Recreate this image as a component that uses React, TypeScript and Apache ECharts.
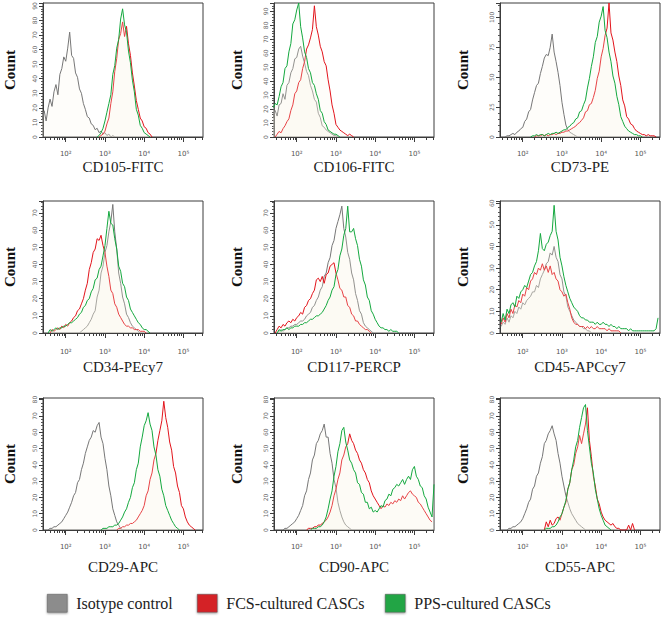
import React, { useEffect, useRef } from "react";
import * as echarts from "echarts";

// ---------- axis definitions ----------
const STEP = 0.05; // channel width in log10 units
const X_MIN = 1.42;
const X_MAX = 5.5;
const DECADES = [2, 3, 4, 5];
const DECADE_LABELS = ["10\u00B2", "10\u00B3", "10\u2074", "10\u2075"];
const MINOR_MULTIPLIERS = [2, 3, 4, 5, 6, 7, 8, 9];
const SERIES_NAMES = ["Isotype control", "FCS-cultured CASCs", "PPS-cultured CASCs"];
const SERIES_COLORS = ["#777777", "#e2141c", "#14a83f"];
const LEGEND_COLORS = ["#8c8c8c", "#d42228", "#22a545"];

const PANEL_TITLES = ["CD105-FITC", "CD106-FITC", "CD73-PE", "CD34-PEcy7", "CD117-PERCP", "CD45-APCcy7", "CD29-APC", "CD90-APC", "CD55-APC"];
const Y_MAX = [92, 96, 112, 77, 77, 61, 81, 81, 81];
const Y_INTERVAL = [10, 10, 25, 10, 10, 10, 10, 10, 10];
const Y_TICKS_90 = [0, 10, 20, 30, 40, 50, 60, 70, 80, 90];
const Y_TICKS_100 = [0, 25, 50, 75, 100];
const Y_TICKS_70 = [0, 10, 20, 30, 40, 50, 60, 70];
const Y_TICKS_60 = [0, 10, 20, 30, 40, 50, 60];
const Y_TICKS_80 = [0, 10, 20, 30, 40, 50, 60, 70, 80];

// ---------- histogram data: [first channel (log10), counts...] ----------
const CD105_ISO: [number, number[]] = [1.40, [12, 18, 11, 20, 26, 21, 31, 36, 29, 43, 47, 55, 52, 61, 72, 56, 54, 44, 41, 33, 30, 23, 19, 14, 13, 9, 8, 5, 6, 3, 4, 2, 3, 1, 2, 0, 1, 0]];
const CD105_FCS: [number, number[]] = [2.85, [0, 1, 2, 4, 9, 13, 23, 31, 45, 54, 67, 71, 79, 69, 76, 64, 56, 44, 35, 25, 19, 13, 11, 7, 6, 3, 2, 0]];
const CD105_PPS: [number, number[]] = [2.80, [0, 1, 3, 6, 11, 17, 23, 29, 43, 49, 61, 67, 81, 88, 77, 72, 59, 51, 39, 31, 19, 15, 8, 6, 3, 2, 1, 0]];

const CD106_ISO: [number, number[]] = [1.40, [14, 19, 15, 23, 24, 31, 27, 37, 39, 46, 49, 56, 57, 63, 65, 58, 53, 47, 44, 37, 33, 27, 25, 17, 14, 8, 7, 5, 4, 3, 2, 1, 1, 0]];
const CD106_FCS: [number, number[]] = [1.45, [0, 2, 4, 3, 6, 8, 11, 13, 19, 23, 31, 33, 39, 41, 49, 54, 63, 66, 71, 77, 94, 79, 73, 65, 61, 54, 51, 41, 33, 23, 17, 9, 7, 5, 4, 3, 2, 1, 2, 1, 0]];
const CD106_PPS: [number, number[]] = [1.40, [21, 24, 23, 29, 36, 39, 49, 51, 61, 67, 81, 84, 91, 96, 79, 71, 61, 57, 49, 46, 39, 37, 31, 27, 19, 17, 11, 9, 5, 4, 3, 2, 2, 1, 0]];

const CD73_ISO: [number, number[]] = [1.55, [0, 1, 1, 2, 3, 2, 4, 5, 7, 8, 13, 15, 21, 23, 31, 37, 43, 45, 53, 59, 66, 69, 68, 75, 86, 71, 63, 54, 43, 29, 19, 10, 6, 4, 3, 2, 1, 0]];
const CD73_FCS: [number, number[]] = [2.30, [0, 1, 1, 1, 2, 1, 2, 1, 2, 2, 3, 2, 3, 3, 4, 4, 5, 5, 6, 7, 8, 9, 11, 12, 14, 16, 21, 22, 27, 28, 33, 39, 49, 55, 67, 74, 85, 91, 112, 87, 81, 71, 63, 51, 43, 31, 26, 17, 15, 11, 10, 7, 5, 4, 3, 2, 2, 1, 2, 1, 1, 1, 0]];
const CD73_PPS: [number, number[]] = [2.20, [0, 1, 1, 2, 1, 2, 2, 1, 2, 3, 2, 3, 3, 4, 3, 4, 5, 6, 6, 8, 9, 11, 12, 15, 16, 21, 22, 27, 31, 41, 49, 59, 67, 79, 84, 96, 101, 109, 89, 83, 71, 63, 51, 45, 34, 27, 17, 13, 9, 7, 5, 4, 3, 2, 2, 1, 1, 0]];

const CD34_ISO: [number, number[]] = [2.35, [0, 1, 2, 3, 4, 6, 8, 11, 13, 21, 25, 35, 39, 47, 51, 59, 65, 75, 59, 49, 35, 29, 21, 17, 11, 9, 6, 4, 3, 2, 1, 0]];
const CD34_FCS: [number, number[]] = [1.60, [0, 2, 1, 2, 3, 2, 4, 3, 5, 4, 6, 7, 9, 10, 13, 14, 17, 20, 25, 29, 37, 41, 47, 49, 55, 54, 57, 51, 47, 39, 33, 25, 23, 17, 15, 11, 9, 7, 5, 4, 4, 3, 3, 2, 2, 2, 1, 1, 1, 0]];
const CD34_PPS: [number, number[]] = [1.55, [0, 2, 1, 2, 3, 2, 3, 3, 4, 4, 5, 6, 6, 7, 8, 9, 11, 12, 15, 16, 19, 20, 24, 26, 31, 32, 37, 39, 45, 51, 61, 71, 64, 63, 55, 49, 39, 36, 29, 27, 21, 19, 14, 12, 10, 8, 6, 5, 3, 2, 2, 1, 0]];

const CD117_ISO: [number, number[]] = [1.50, [0, 1, 2, 1, 2, 3, 3, 4, 4, 5, 5, 6, 7, 7, 8, 10, 11, 12, 15, 16, 19, 21, 25, 27, 33, 35, 41, 44, 51, 54, 61, 65, 69, 74, 61, 56, 47, 43, 35, 31, 23, 19, 13, 11, 6, 4, 3, 2, 1, 0]];
const CD117_FCS: [number, number[]] = [1.45, [0, 2, 4, 3, 5, 4, 6, 7, 6, 8, 7, 9, 10, 12, 11, 15, 16, 19, 20, 23, 25, 31, 32, 30, 33, 29, 34, 35, 39, 40, 41, 35, 31, 26, 25, 21, 21, 16, 15, 11, 10, 7, 7, 5, 4, 3, 2, 2, 1, 0]];
const CD117_PPS: [number, number[]] = [1.50, [0, 2, 1, 2, 2, 3, 2, 3, 3, 4, 4, 4, 5, 5, 6, 6, 7, 8, 8, 9, 10, 10, 11, 12, 14, 16, 19, 21, 25, 27, 34, 37, 45, 49, 57, 61, 74, 59, 59, 61, 55, 51, 43, 39, 31, 28, 21, 19, 13, 11, 8, 6, 4, 3, 3, 2, 2, 1, 2, 1, 1, 1, 0]];

const CD45_ISO: [number, number[]] = [1.45, [3, 5, 4, 7, 5, 8, 7, 10, 9, 12, 11, 14, 13, 15, 16, 17, 19, 19, 22, 21, 25, 27, 29, 32, 33, 37, 36, 40, 35, 33, 27, 25, 19, 17, 12, 10, 8, 6, 5, 4, 3, 3, 2, 2, 1, 1, 0]];
const CD45_FCS: [number, number[]] = [1.45, [4, 7, 5, 9, 7, 11, 9, 13, 12, 15, 14, 18, 17, 21, 20, 24, 25, 28, 27, 30, 29, 32, 29, 31, 28, 31, 27, 28, 25, 24, 20, 19, 17, 18, 14, 11, 7, 5, 4, 4, 3, 3, 3, 2, 3, 2, 3, 2, 2, 3, 2, 2, 2, 2, 1, 2, 1, 1, 1, 1, 1, 0]];
const CD45_PPS: [number, number[]] = [1.45, [5, 9, 6, 11, 9, 13, 14, 12, 17, 16, 19, 20, 22, 21, 24, 27, 28, 31, 33, 38, 46, 39, 38, 41, 42, 45, 47, 59, 47, 43, 35, 31, 26, 22, 19, 16, 14, 12, 11, 10, 8, 7, 7, 6, 6, 5, 5, 5, 4, 5, 4, 4, 5, 4, 4, 3, 4, 3, 3, 2, 3, 2, 2, 2, 2, 1, 2, 1, 1, 1, 1, 1, 1, 1, 1, 1, 1, 1, 1, 2, 7]];

const CD29_ISO: [number, number[]] = [1.55, [0, 1, 1, 2, 2, 3, 4, 5, 7, 9, 11, 14, 17, 21, 23, 29, 31, 37, 41, 47, 51, 55, 57, 61, 60, 64, 66, 57, 53, 44, 37, 27, 21, 13, 9, 5, 3, 1, 0]];
const CD29_FCS: [number, number[]] = [3.30, [0, 1, 1, 2, 2, 3, 3, 4, 4, 5, 6, 8, 10, 12, 15, 21, 24, 31, 35, 43, 47, 55, 61, 67, 79, 69, 63, 54, 49, 39, 35, 27, 23, 15, 13, 8, 5, 3, 2, 1, 0]];
const CD29_PPS: [number, number[]] = [2.90, [0, 1, 1, 1, 2, 2, 2, 3, 3, 4, 6, 8, 11, 13, 17, 20, 26, 29, 37, 41, 51, 57, 64, 67, 72, 65, 61, 51, 46, 37, 33, 25, 21, 15, 12, 9, 6, 4, 2, 1, 0]];

const CD90_ISO: [number, number[]] = [1.65, [0, 1, 1, 2, 3, 4, 5, 7, 9, 12, 15, 21, 24, 31, 35, 43, 46, 53, 55, 59, 61, 65, 57, 57, 47, 41, 31, 26, 17, 12, 8, 5, 3, 2, 1, 0]];
const CD90_FCS: [number, number[]] = [2.25, [0, 1, 1, 1, 2, 2, 3, 3, 4, 5, 6, 8, 11, 15, 21, 25, 31, 35, 43, 46, 51, 53, 59, 55, 53, 49, 47, 43, 41, 37, 35, 31, 29, 24, 21, 19, 17, 15, 13, 15, 14, 16, 15, 17, 16, 18, 17, 19, 18, 21, 19, 21, 23, 24, 22, 21, 20, 17, 16, 14, 12, 10, 8, 6, 5]];
const CD90_PPS: [number, number[]] = [2.35, [0, 1, 1, 1, 2, 2, 3, 5, 8, 13, 19, 24, 33, 39, 48, 53, 61, 63, 54, 49, 43, 41, 37, 35, 29, 28, 23, 22, 17, 17, 13, 14, 11, 12, 11, 13, 15, 14, 18, 19, 22, 21, 25, 26, 28, 27, 29, 31, 28, 31, 33, 31, 37, 39, 33, 31, 27, 26, 21, 19, 14, 11, 8, 28]];

const CD55_ISO: [number, number[]] = [1.60, [0, 1, 1, 2, 2, 3, 4, 5, 7, 10, 13, 17, 19, 25, 27, 33, 35, 41, 45, 53, 55, 59, 61, 64, 59, 55, 47, 41, 33, 27, 21, 17, 13, 10, 8, 6, 4, 3, 2, 1, 0]];
const CD55_FCS: [number, number[]] = [2.55, [0, 5, 2, 6, 3, 4, 7, 8, 6, 10, 14, 17, 25, 29, 37, 40, 47, 51, 58, 53, 59, 65, 75, 55, 45, 33, 27, 19, 16, 11, 8, 6, 5, 4, 3, 4, 2, 1, 1, 0, 0, 0, 0, 3, 0, 4, 0]];
const CD55_PPS: [number, number[]] = [2.55, [0, 1, 1, 1, 2, 2, 3, 5, 8, 10, 14, 18, 25, 29, 37, 43, 51, 55, 63, 69, 75, 77, 61, 51, 41, 35, 25, 19, 13, 9, 6, 3, 2, 1, 0]];

const PANEL_CURVES = [
  [CD105_ISO, CD105_FCS, CD105_PPS],
  [CD106_ISO, CD106_FCS, CD106_PPS],
  [CD73_ISO, CD73_FCS, CD73_PPS],
  [CD34_ISO, CD34_FCS, CD34_PPS],
  [CD117_ISO, CD117_FCS, CD117_PPS],
  [CD45_ISO, CD45_FCS, CD45_PPS],
  [CD29_ISO, CD29_FCS, CD29_PPS],
  [CD90_ISO, CD90_FCS, CD90_PPS],
  [CD55_ISO, CD55_FCS, CD55_PPS],
];
const PANEL_YTICKS = [Y_TICKS_90, Y_TICKS_90, Y_TICKS_100, Y_TICKS_70, Y_TICKS_70, Y_TICKS_60, Y_TICKS_80, Y_TICKS_80, Y_TICKS_80];

// ---------- layout (pixels) ----------
const COL_LEFT = [43, 274, 500];
const COL_WIDTH = [160, 160, 160];
const COL_NAME_GAP = [26, 30, 30];
const ROW_TOP = [3, 201, 398];
const ROW_HEIGHT = [134, 132, 132];
const ROW_NAME_GAP = [22, 26, 29];
const ROW_LABEL_MARGIN = [13, 15, 13];
const LEGEND_LEFT = [42, 192, 380];
const LEGEND_TOP = 589;

function buildOption() {
  const minorTicks: number[] = [];
  for (let d = 1; d <= 5; d++) {
    MINOR_MULTIPLIERS.forEach((m) => {
      const v = d + Math.log10(m);
      if (v > X_MIN && v < X_MAX) minorTicks.push(v);
    });
  }
  const grids: any[] = [];
  const xAxes: any[] = [];
  const yAxes: any[] = [];
  const series: any[] = [];
  PANEL_TITLES.forEach((title, i) => {
    const r = Math.floor(i / 3);
    const c = i % 3;
    grids.push({
      left: COL_LEFT[c],
      top: ROW_TOP[r],
      width: COL_WIDTH[c],
      height: ROW_HEIGHT[r],
      show: true,
      backgroundColor: "#ffffff",
      borderColor: "#3c3c3c",
      borderWidth: 1,
      outerBoundsMode: "none",
    });
    xAxes.push({
      type: "value",
      gridIndex: i,
      min: X_MIN,
      max: X_MAX,
      position: "bottom",
      axisLine: { show: true, lineStyle: { color: "#3c3c3c", width: 1 } },
      axisTick: { show: true, customValues: DECADES, length: 5, lineStyle: { color: "#3c3c3c" } },
      axisLabel: {
        customValues: DECADES,
        formatter: (v: number) => DECADE_LABELS[DECADES.indexOf(Math.round(v))] || "",
        fontSize: 7,
        color: "#555",
        fontFamily: "DejaVu Sans",
        margin: ROW_LABEL_MARGIN[r],
      },
      splitLine: { show: false },
      name: title,
      nameLocation: "middle",
      nameGap: ROW_NAME_GAP[r],
      nameTextStyle: { fontFamily: "Liberation Serif", fontSize: 15, color: "#222" },
    });
    xAxes.push({
      type: "value",
      gridIndex: i,
      min: X_MIN,
      max: X_MAX,
      position: "bottom",
      axisLine: { show: false },
      axisTick: { show: true, customValues: minorTicks, length: 3, lineStyle: { color: "#3c3c3c" } },
      axisLabel: { show: false },
      splitLine: { show: false },
    });
    yAxes.push({
      type: "value",
      gridIndex: i,
      min: 0,
      max: Y_MAX[i],
      interval: Y_INTERVAL[i],
      axisLine: { show: true, lineStyle: { color: "#3c3c3c", width: 1 } },
      axisTick: { show: true, length: 4, lineStyle: { color: "#3c3c3c" } },
      minorTick: { show: true, splitNumber: 5, length: 2, lineStyle: { color: "#555" } },
      axisLabel: {
        customValues: PANEL_YTICKS[i],
        rotate: 90,
        fontSize: 6,
        color: "#666",
        fontFamily: "DejaVu Sans",
        margin: 6,
      },
      splitLine: { show: false },
      name: "Count",
      nameLocation: "middle",
      nameGap: COL_NAME_GAP[c],
      nameRotate: 90,
      nameTextStyle: { fontFamily: "Liberation Serif", fontWeight: "bold", fontSize: 15, color: "#111" },
    });
    PANEL_CURVES[i].forEach(([start, counts], k) => {
      series.push({
        type: "line",
        name: SERIES_NAMES[k],
        xAxisIndex: 2 * i,
        yAxisIndex: i,
        data: counts.map((v, j) => [start + j * STEP, v]),
        showSymbol: false,
        symbol: "none",
        silent: true,
        z: 2 + k,
        lineStyle: { width: 1, color: SERIES_COLORS[k] },
        itemStyle: { color: SERIES_COLORS[k] },
        areaStyle: { color: "rgba(250,247,230,0.3)" },
      });
    });
  });
  const legends = SERIES_NAMES.map((name, k) => ({
    data: [{ name, itemStyle: { color: LEGEND_COLORS[k], borderColor: "#555", borderWidth: 0.5, shadowBlur: 2, shadowColor: "rgba(0,0,0,0.4)", shadowOffsetY: 1 } }],
    left: LEGEND_LEFT[k],
    top: LEGEND_TOP,
    icon: "rect",
    itemWidth: 20,
    itemHeight: 18,
    itemGap: 0,
    selectedMode: false,
    textStyle: { fontFamily: "Liberation Serif", fontSize: 16, color: "#222", padding: [0, 0, 0, 4] },
  }));
  return {
    animation: false,
    backgroundColor: "#ffffff",
    grid: grids,
    xAxis: xAxes,
    yAxis: yAxes,
    legend: legends,
    series,
  };
}

export default function App() {
  const ref = useRef<HTMLDivElement>(null);
  useEffect(() => {
    if (!ref.current) return;
    const chart = echarts.init(ref.current, undefined, { renderer: "svg" });
    chart.setOption(buildOption());
    return () => chart.dispose();
  }, []);
  return <div ref={ref} style={{ position: "absolute", left: 0, top: 0, width: 665, height: 619 }} />;
}
